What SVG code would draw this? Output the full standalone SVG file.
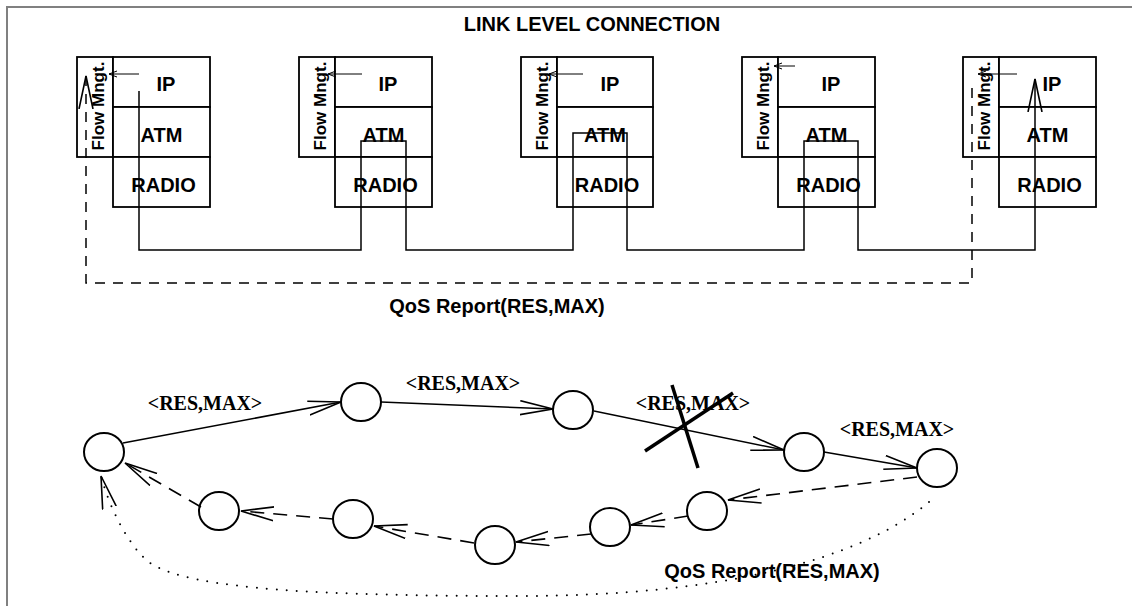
<svg xmlns="http://www.w3.org/2000/svg" width="1132" height="606" viewBox="0 0 1132 606">
  <style>
    .frame { stroke: #808080; stroke-width: 2; fill: none; }
    .box { fill: #fff; stroke: #000; stroke-width: 1.8; }
    .lbl { font-family: "Liberation Sans", Arial, sans-serif; font-weight: bold; font-size: 20px; fill: #000; }
    .flow { font-family: "Liberation Sans", Arial, sans-serif; font-weight: bold; font-size: 17px; fill: #000; }
    .msg { font-family: "Liberation Serif", "Times New Roman", serif; font-weight: bold; font-size: 20px; fill: #000; }
    .wire { fill: none; stroke: #000; stroke-width: 1.5; }
    .thin { fill: none; stroke: #000; stroke-width: 1; }
    .dash { fill: none; stroke: #000; stroke-width: 1.5; stroke-dasharray: 10 8; }
    .dash2 { fill: none; stroke: #000; stroke-width: 1.6; stroke-dasharray: 14 9; }
    .dot { fill: none; stroke: #000; stroke-width: 2; stroke-dasharray: 0 10; stroke-linecap: round; }
    .node { fill: #fff; stroke: #000; stroke-width: 2; }
    .cross { stroke: #000; stroke-width: 3.5; }
  </style>
  <defs>
    <marker id="open" viewBox="0 0 40 20" refX="33" refY="8" markerWidth="40" markerHeight="20" orient="auto-start-reverse" markerUnits="userSpaceOnUse">
      <path d="M0,1 L33,8 L0,15" fill="none" stroke="#000" stroke-width="1.6"/>
    </marker>
    <marker id="small" viewBox="0 0 10 8" refX="8" refY="4" markerWidth="10" markerHeight="8" orient="auto" markerUnits="userSpaceOnUse">
      <path d="M0,1 L8,4 L0,7" fill="none" stroke="#000" stroke-width="1"/>
    </marker>
  </defs>

  <rect width="1132" height="606" fill="#fff"/>
  <path class="frame" d="M7,606 V7 H1132"/>

  <text class="lbl" x="592" y="31" text-anchor="middle">LINK LEVEL CONNECTION</text>

  <!-- protocol stacks -->
  <g id="stack1">
    <rect class="box" x="77" y="57" width="36" height="100"/>
    <rect class="box" x="113" y="57" width="97" height="50"/>
    <rect class="box" x="113" y="107" width="97" height="50"/>
    <rect class="box" x="113" y="157" width="97" height="50"/>
    <text class="flow" transform="translate(104,106) rotate(-90)" text-anchor="middle">Flow Mngt.</text>
    <text class="lbl" x="166" y="91" text-anchor="middle">IP</text>
    <text class="lbl" x="161.5" y="142" text-anchor="middle">ATM</text>
    <text class="lbl" x="163.5" y="192" text-anchor="middle">RADIO</text>
  </g>
  <g id="stack2">
    <rect class="box" x="299" y="57" width="36" height="100"/>
    <rect class="box" x="335" y="57" width="97" height="50"/>
    <rect class="box" x="335" y="107" width="97" height="50"/>
    <rect class="box" x="335" y="157" width="97" height="50"/>
    <text class="flow" transform="translate(326,106) rotate(-90)" text-anchor="middle">Flow Mngt.</text>
    <text class="lbl" x="388" y="91" text-anchor="middle">IP</text>
    <text class="lbl" x="383.5" y="142" text-anchor="middle">ATM</text>
    <text class="lbl" x="385.5" y="192" text-anchor="middle">RADIO</text>
  </g>
  <g id="stack3">
    <rect class="box" x="521" y="57" width="36" height="100"/>
    <rect class="box" x="557" y="57" width="96" height="50"/>
    <rect class="box" x="557" y="107" width="96" height="50"/>
    <rect class="box" x="557" y="157" width="96" height="50"/>
    <text class="flow" transform="translate(548,106) rotate(-90)" text-anchor="middle">Flow Mngt.</text>
    <text class="lbl" x="610" y="91" text-anchor="middle">IP</text>
    <text class="lbl" x="605" y="142" text-anchor="middle">ATM</text>
    <text class="lbl" x="607" y="192" text-anchor="middle">RADIO</text>
  </g>
  <g id="stack4">
    <rect class="box" x="742" y="57" width="36" height="100"/>
    <rect class="box" x="778" y="57" width="97" height="50"/>
    <rect class="box" x="778" y="107" width="97" height="50"/>
    <rect class="box" x="778" y="157" width="97" height="50"/>
    <text class="flow" transform="translate(769,106) rotate(-90)" text-anchor="middle">Flow Mngt.</text>
    <text class="lbl" x="831" y="91" text-anchor="middle">IP</text>
    <text class="lbl" x="826.5" y="142" text-anchor="middle">ATM</text>
    <text class="lbl" x="828.5" y="192" text-anchor="middle">RADIO</text>
  </g>
  <g id="stack5">
    <rect class="box" x="963" y="57" width="36" height="100"/>
    <rect class="box" x="999" y="57" width="97" height="50"/>
    <rect class="box" x="999" y="107" width="97" height="50"/>
    <rect class="box" x="999" y="157" width="97" height="50"/>
    <text class="flow" transform="translate(990,106) rotate(-90)" text-anchor="middle">Flow Mngt.</text>
    <text class="lbl" x="1052" y="91" text-anchor="middle">IP</text>
    <text class="lbl" x="1047.5" y="142" text-anchor="middle">ATM</text>
    <text class="lbl" x="1049.5" y="192" text-anchor="middle">RADIO</text>
  </g>

  <text class="lbl" x="497" y="313" text-anchor="middle">QoS Report(RES,MAX)</text>

  <!-- route nodes -->
  <g id="nA"><ellipse class="node" cx="104" cy="452" rx="20" ry="19"/></g>
  <g id="nB"><ellipse class="node" cx="361" cy="402" rx="20" ry="19"/></g>
  <g id="nC"><ellipse class="node" cx="573" cy="410" rx="20" ry="19"/></g>
  <g id="nD"><ellipse class="node" cx="804" cy="452" rx="20" ry="19"/></g>
  <g id="nE"><ellipse class="node" cx="937" cy="468" rx="20" ry="19"/></g>
  <g id="nF"><ellipse class="node" cx="707" cy="511" rx="20" ry="19"/></g>
  <g id="nG"><ellipse class="node" cx="610" cy="527" rx="20" ry="19"/></g>
  <g id="nH"><ellipse class="node" cx="495" cy="545" rx="20" ry="19"/></g>
  <g id="nI"><ellipse class="node" cx="353" cy="519" rx="20" ry="19"/></g>
  <g id="nJ"><ellipse class="node" cx="219" cy="511" rx="20" ry="19"/></g>

  <g id="connectors">
    <!-- link path through the stacks -->
    <path class="wire" d="M139,91 V250 H361 V141 H406 V250 H573 V133 H627 V250 H804 V141 H858 V250 H1035 V79" marker-end="url(#open)"/>
    <!-- report path -->
    <path class="dash" d="M86,76 V283 H972 V83" marker-start="url(#open)"/>
    <!-- flow management hooks -->
    <path class="thin" d="M139,74 H109" marker-end="url(#small)"/>
    <path class="thin" d="M362,74 H328" marker-end="url(#small)"/>
    <path class="thin" d="M583,74 H549" marker-end="url(#small)"/>
    <path class="thin" d="M795,66 H774" marker-end="url(#small)"/>
    <path class="thin" d="M1017,74 H978" marker-end="url(#small)"/>

    <!-- forward reservation -->
    <path class="wire" d="M123,443 L341,402" marker-end="url(#open)"/>
    <path class="wire" d="M381,402 L553,409" marker-end="url(#open)"/>
    <path class="wire" d="M594,411 L784,450" marker-end="url(#open)"/>
    <path class="wire" d="M824,452 L917,468" marker-end="url(#open)"/>
    <line class="cross" x1="672" y1="385" x2="698" y2="468"/>
    <line class="cross" x1="645" y1="451" x2="733" y2="393"/>

    <!-- return path -->
    <path class="dash2" d="M917,477 L728,500" marker-end="url(#open)"/>
    <path class="dash2" d="M688,516 L631,525" marker-end="url(#open)"/>
    <path class="dash2" d="M591,534 L516,542" marker-end="url(#open)"/>
    <path class="dash2" d="M474,543 L374,526" marker-end="url(#open)"/>
    <path class="dash2" d="M333,519 L241,511" marker-end="url(#open)"/>
    <path class="dash2" d="M201,507 L125,463" marker-end="url(#open)"/>

    <!-- end-to-end report -->
    <path class="dot" d="M929,502 C860,560 720,596 520,596 C330,596 190,590 150,563 C130,548 110,510 101,476" marker-end="url(#open)"/>
  </g>

  <text class="msg" x="205" y="410" text-anchor="middle">&lt;RES,MAX&gt;</text>
  <text class="msg" x="463" y="390" text-anchor="middle">&lt;RES,MAX&gt;</text>
  <text class="msg" x="693" y="410" text-anchor="middle">&lt;RES,MAX&gt;</text>
  <text class="msg" x="897" y="436" text-anchor="middle">&lt;RES,MAX&gt;</text>

  <text class="lbl" x="772" y="578" text-anchor="middle">QoS Report(RES,MAX)</text>
</svg>
